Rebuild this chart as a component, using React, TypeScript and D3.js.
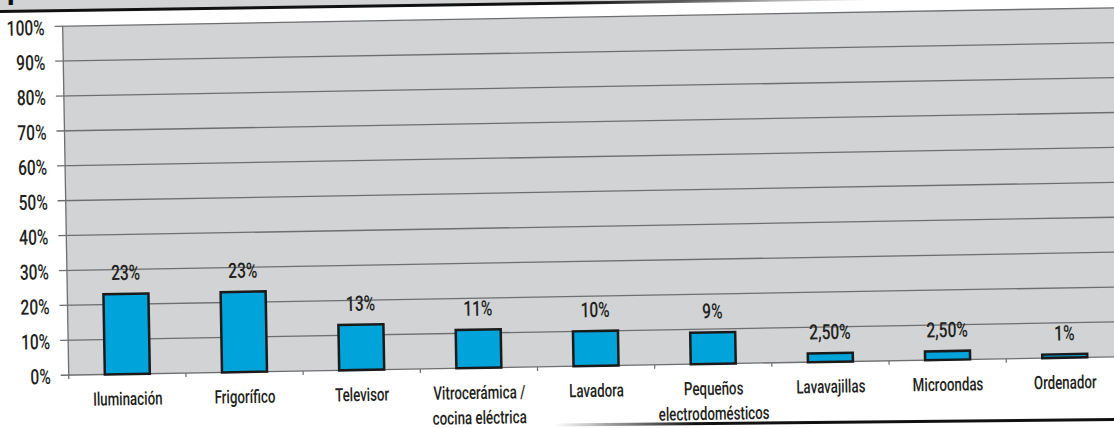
import React from "react";
import * as d3 from "d3";

const categories: string[][] = [
  ["Iluminación"],
  ["Frigorífico"],
  ["Televisor"],
  ["Vitrocerámica /", "cocina eléctrica"],
  ["Lavadora"],
  ["Pequeños", "electrodomésticos"],
  ["Lavavajillas"],
  ["Microondas"],
  ["Ordenador"],
];
const values: number[] = [23, 23, 13, 11, 10, 9, 2.5, 2.5, 1];
const valueLabels: string[] = ["23%", "23%", "13%", "11%", "10%", "9%", "2,50%", "2,50%", "1%"];
const yTicks: number[] = [0, 10, 20, 30, 40, 50, 60, 70, 80, 90, 100];
const yTickLabels: string[] = yTicks.map((t) => `${t}%`);

const W = 1114;
const H = 428;
const TEXT = "#231f20";
const GRID = "#6d6e71";
const BG = "#d1d3d4";
const BAR = "#00a3da";
const FONT = "Roboto, 'Liberation Sans', Arial, sans-serif";

export default function App() {
  const x0 = 66;
  const step = 117.2;
  const x = d3
    .scaleBand<number>()
    .domain(d3.range(categories.length))
    .range([x0, x0 + step * categories.length])
    .paddingInner(0.616)
    .paddingOuter(0.308);
  const y = d3.scaleLinear().domain([0, 100]).range([366.5, 17.5]);
  const xEnd = x0 + step * categories.length;

  return (
    <svg
      width={W}
      height={H}
      style={{ position: "absolute", left: 0, top: 0, display: "block", background: "#fff" }}
    >
      <defs>
        <linearGradient id="topFade" x1="0" x2="880" y1="0" y2="0" gradientUnits="userSpaceOnUse">
          <stop offset="0" stopColor="#111" />
          <stop offset="0.65" stopColor="#111" />
          <stop offset="1" stopColor="#111" stopOpacity="0" />
        </linearGradient>
        <linearGradient id="topBgFade" x1="0" x2="880" y1="0" y2="0" gradientUnits="userSpaceOnUse">
          <stop offset="0" stopColor={BG} />
          <stop offset="0.8" stopColor={BG} />
          <stop offset="1" stopColor={BG} stopOpacity="0" />
        </linearGradient>
        <linearGradient id="botFade" x1="555" x2="1114" y1="0" y2="0" gradientUnits="userSpaceOnUse">
          <stop offset="0" stopColor="#111" stopOpacity="0" />
          <stop offset="0.25" stopColor="#111" />
          <stop offset="1" stopColor="#111" />
        </linearGradient>
      </defs>

      {/* top decoration */}
      <polygon points="0,0 880,0 880,-1.5 0,11.5" fill="url(#topBgFade)" />
      <text x={7} y={-1} fontSize={30} fontWeight="bold" fontFamily={FONT} fill="#111">
        p
      </text>
      <line x1={0} y1={11.5} x2={880} y2={-1.5} stroke="url(#topFade)" strokeWidth={3} />

      {/* bottom decoration */}
      <line x1={555} y1={425} x2={1114} y2={419.5} stroke="url(#botFade)" strokeWidth={3} />

      <g transform="rotate(-1, 560, 214)">
        {/* plot background */}
        <rect x={x0} y={y(100)} width={xEnd - x0 + 20} height={y(0) - y(100)} fill={BG} />

        {/* gridlines + y ticks */}
        {yTicks.map((t, i) => (
          <g key={t}>
            <line x1={x0 - 8} x2={xEnd + 20} y1={y(t)} y2={y(t)} stroke={GRID} strokeWidth={1.3} />
            <text
              transform={`translate(48, ${y(t) + 8.5}) scale(0.74, 1)`}
              textAnchor="end"
              fontSize={21}
              fontWeight={500}
              fontFamily={FONT}
              fill={TEXT}
            >
              {yTickLabels[i]}
            </text>
          </g>
        ))}

        {/* y axis */}
        <line x1={x0} x2={x0} y1={y(100)} y2={y(0) + 4} stroke={GRID} strokeWidth={1.3} />

        {/* x ticks */}
        {d3.range(1, categories.length + 1).map((i) => (
          <line
            key={i}
            x1={x0 + step * i}
            x2={x0 + step * i}
            y1={y(0)}
            y2={y(0) + 4}
            stroke={GRID}
            strokeWidth={1.2}
          />
        ))}

        {/* bars */}
        {values.map((v, i) => (
          <rect
            key={i}
            x={x(i)!}
            y={y(v)}
            width={x.bandwidth()}
            height={y(0) - y(v)}
            fill={BAR}
            stroke="#1a1a1a"
            strokeWidth={2.5}
          />
        ))}

        {/* value labels */}
        {values.map((v, i) => (
          <text
            key={i}
            transform={`translate(${x(i)! + x.bandwidth() / 2}, ${y(v) - 14}) scale(0.74, 1)`}
            textAnchor="middle"
            fontSize={21}
            fontWeight={500}
            fontFamily={FONT}
            fill={TEXT}
          >
            {valueLabels[i]}
          </text>
        ))}

        {/* category labels */}
        {categories.map((lines, i) =>
          lines.map((ln, j) => (
            <text
              key={`${i}-${j}`}
              transform={`translate(${x(i)! + x.bandwidth() / 2}, ${y(0) + 31 + j * 25}) scale(0.72, 1)`}
              textAnchor="middle"
              fontSize={18.5}
              fontWeight={500}
              fontFamily={FONT}
              fill={TEXT}
            >
              {ln}
            </text>
          ))
        )}
      </g>
    </svg>
  );
}
